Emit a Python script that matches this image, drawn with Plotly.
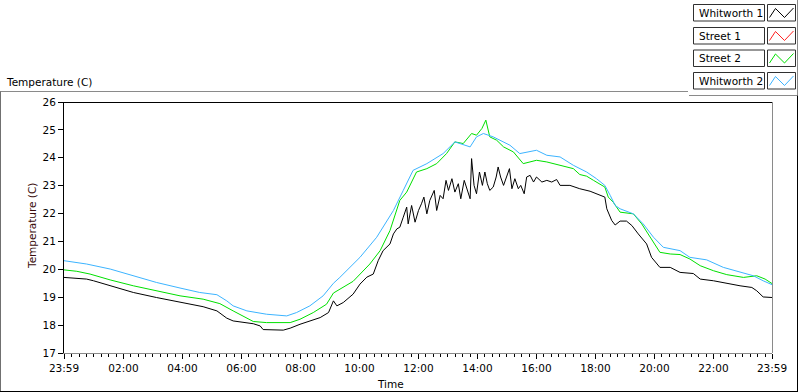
import plotly.graph_objects as go

# ---------------- data ----------------
series_names = ["Whitworth 1", "Street 1", "Street 2", "Whitworth 2"]
series_colors = ["#000000", "#ff2020", "#00e000", "#3cb4ff"]

whitworth1_time = ["23:59", "00:45", "00:59", "01:33", "02:20", "03:07", "03:55", "04:42", "05:10", "05:30",
                   "05:43", "06:24", "06:38", "06:44", "07:25", "07:39", "07:59", "08:19", "08:40", "08:57",
                   "09:07", "09:14", "09:27", "09:47", "10:01", "10:15", "10:28", "10:38", "10:48", "11:02",
                   "11:09", "11:16", "11:22", "11:29", "11:36", "11:39", "11:46", "11:53", "12:00", "12:06",
                   "12:11", "12:17", "12:23", "12:32", "12:37", "12:44", "12:50", "12:56", "13:01", "13:08",
                   "13:14", "13:21", "13:26", "13:33", "13:38", "13:45", "13:48", "13:53", "13:58", "14:04",
                   "14:10", "14:15", "14:20", "14:25", "14:32", "14:38", "14:42", "14:47", "14:53", "14:59",
                   "15:05", "15:10", "15:16", "15:23", "15:28", "15:35", "15:40", "15:47", "15:54", "16:00",
                   "16:11", "16:21", "16:31", "16:41", "16:48", "17:08", "17:28", "17:49", "18:09", "18:19",
                   "18:23", "18:33", "18:40", "18:50", "19:03", "19:14", "19:27", "19:44", "19:54", "20:11",
                   "20:32", "20:52", "21:19", "21:33", "22:00", "22:27", "22:54", "23:18", "23:28", "23:41",
                   "23:59"]
whitworth1_temp = [19.71, 19.65, 19.59, 19.41, 19.17, 18.99, 18.81, 18.66, 18.51, 18.25,
                   18.15, 18.05, 17.97, 17.84, 17.82, 17.89, 18.03, 18.15, 18.27, 18.45,
                   18.87, 18.69, 18.81, 19.11, 19.47, 19.72, 19.83, 20.31, 20.67, 20.91,
                   21.27, 21.45, 21.51, 21.87, 22.23, 21.63, 22.29, 21.69, 22.11, 22.35,
                   22.59, 21.99, 22.47, 22.83, 22.11, 22.65, 22.53, 23.19, 22.83, 23.25,
                   22.77, 23.07, 22.53, 23.19, 22.89, 22.53, 23.97, 23.01, 22.71, 23.49,
                   23.01, 23.49, 23.07, 22.83, 22.95, 23.31, 23.67, 23.31, 23.01, 23.31,
                   23.61, 22.89, 23.25, 22.89, 23.01, 22.71, 23.31, 23.37, 23.13, 23.31,
                   23.13, 23.19, 23.13, 23.22, 23.01, 23.01, 22.89, 22.80, 22.65, 22.59,
                   22.17, 21.75, 21.59, 21.73, 21.73, 21.57, 21.27, 20.91, 20.43, 20.07,
                   20.07, 19.89, 19.85, 19.65, 19.59, 19.49, 19.41, 19.35, 19.23, 19.01,
                   18.99]

street1_time = []
street1_temp = []

street2_time = ["23:59", "00:25", "00:52", "01:33", "02:20", "03:07", "03:55", "04:42", "05:16", "05:43",
                "06:24", "06:51", "07:39", "07:59", "08:26", "08:53", "09:07", "09:47", "10:01", "10:21",
                "10:42", "11:02", "11:22", "11:36", "11:56", "12:17", "12:37", "12:57", "13:14", "13:31",
                "13:48", "13:58", "14:09", "14:17", "14:25", "14:39", "14:53", "15:13", "15:33", "15:47",
                "16:00", "16:21", "16:48", "17:15", "17:28", "17:42", "17:56", "18:19", "18:26", "18:36",
                "18:50", "19:17", "19:34", "19:51", "20:11", "20:32", "20:52", "21:12", "21:33", "22:00",
                "22:27", "23:01", "23:28", "23:45", "23:59"]
street2_temp = [19.98, 19.93, 19.83, 19.62, 19.41, 19.23, 19.05, 18.93, 18.77, 18.51,
                18.13, 18.09, 18.09, 18.21, 18.45, 18.75, 19.15, 19.57, 19.83, 20.19,
                20.67, 21.39, 22.47, 22.77, 23.49, 23.61, 23.79, 24.15, 24.57, 24.51,
                24.87, 24.81, 25.05, 25.35, 24.75, 24.63, 24.39, 24.21, 23.79, 23.85,
                23.91, 23.85, 23.73, 23.61, 23.40, 23.34, 23.19, 22.95, 22.59, 22.41,
                22.05, 21.99, 21.63, 21.15, 20.61, 20.55, 20.53, 20.37, 20.13, 19.95,
                19.81, 19.71, 19.77, 19.65, 19.49]

whitworth2_time = ["23:59", "00:45", "01:33", "02:20", "03:07", "03:55", "04:35", "05:10", "05:30", "05:43",
                   "06:11", "06:51", "07:32", "07:52", "08:19", "08:46", "09:07", "09:20", "09:54", "10:01",
                   "10:35", "11:09", "11:29", "11:49", "12:17", "12:50", "13:14", "13:24", "13:45", "13:58",
                   "14:12", "14:32", "14:46", "15:06", "15:26", "15:47", "16:00", "16:21", "16:48", "17:15",
                   "17:28", "17:42", "18:02", "18:19", "18:30", "18:40", "18:50", "19:17", "19:37", "19:58",
                   "20:18", "20:52", "21:12", "21:46", "22:20", "22:54", "23:21", "23:41", "23:59"]
whitworth2_temp = [20.31, 20.19, 20.01, 19.77, 19.53, 19.33, 19.17, 19.09, 18.87, 18.69,
                   18.51, 18.39, 18.33, 18.45, 18.69, 19.05, 19.50, 19.71, 20.31, 20.43,
                   21.15, 22.11, 22.83, 23.55, 23.79, 24.15, 24.57, 24.51, 24.39, 24.75,
                   24.87, 24.75, 24.63, 24.45, 24.15, 24.21, 24.27, 24.09, 24.03, 23.73,
                   23.60, 23.49, 23.25, 23.01, 22.65, 22.29, 22.17, 21.99, 21.63, 21.15,
                   20.79, 20.67, 20.43, 20.34, 20.07, 19.89, 19.77, 19.59, 19.45]

tick_hours = [-1 / 60, 2, 4, 6, 8, 10, 12, 14, 16, 18, 20, 22, 23 + 59 / 60]
tick_labels = ["23:59", "02:00", "04:00", "06:00", "08:00", "10:00", "12:00",
               "14:00", "16:00", "18:00", "20:00", "22:00", "23:59"]
y_min, y_max = 17, 26


def to_hours(times):
    out = []
    for i, t in enumerate(times):
        h, m = int(t[:2]), int(t[3:])
        if i == 0 and t == "23:59":
            out.append(-1 / 60)
        else:
            out.append(h + m / 60)
    return out


# ---------------- layout geometry (pixels) ----------------
W, H = 800, 392
L, R, T, B = 64, 28, 102, 39
PW, PH = W - L - R, H - T - B
FONT = "DejaVu Sans"


def px(x):
    return (x - L) / PW


def py(y):
    return (H - B - y) / PH


fig = go.Figure()
series = [(whitworth1_time, whitworth1_temp), (street1_time, street1_temp),
          (street2_time, street2_temp), (whitworth2_time, whitworth2_temp)]
for name, color, (tt, vv) in zip(series_names, series_colors, series):
    fig.add_trace(go.Scatter(x=to_hours(tt), y=vv, mode="lines", name=name,
                             line=dict(color=color, width=1), showlegend=False,
                             hoverinfo="skip"))

shapes = []
annotations = []


def hline(x0, x1, y, color):
    shapes.append(dict(type="line", xref="paper", yref="paper", x0=px(x0), x1=px(x1),
                       y0=py(y), y1=py(y), line=dict(color=color, width=1), layer="above"))


def vline(x, y0, y1, color):
    shapes.append(dict(type="line", xref="paper", yref="paper", x0=px(x), x1=px(x),
                       y0=py(y0), y1=py(y1), line=dict(color=color, width=1), layer="above"))


# outer frame
hline(0, 688, 91.5, "#8a8a8a")
hline(689, 797, 95.5, "#8a8a8a")
vline(797.5, 0, 95.5, "#8a8a8a")
vline(797.5, 95.5, 391.5, "#000000")
vline(0.5, 91.5, 391.5, "#707070")
hline(0, 798, 391.5, "#000000")
# plot frame: top black, right gray
hline(64, 772, 102.5, "#000000")
vline(772.5, 102, 353, "#8a8a8a")

# legend
row_tops = [4.5, 27.5, 50.0, 72.5]
for name, color, top in zip(series_names, series_colors, row_tops):
    shapes.append(dict(type="rect", xref="paper", yref="paper", x0=px(693.5), x1=px(764.5),
                       y0=py(top), y1=py(top + 16.5), line=dict(color="#303030", width=1),
                       fillcolor="white", layer="above"))
    shapes.append(dict(type="rect", xref="paper", yref="paper", x0=px(767.5), x1=px(795.5),
                       y0=py(top), y1=py(top + 16.5), line=dict(color="#303030", width=1),
                       fillcolor="white", layer="above"))
    pts = [(769.5, top + 13), (775.5, top + 4), (784.5, top + 13), (793.5, top + 3.5)]
    path = "M " + " L ".join(f"{px(a):.5f},{py(b):.5f}" for a, b in pts)
    shapes.append(dict(type="path", xref="paper", yref="paper", path=path,
                       line=dict(color=color, width=1), layer="above"))
    annotations.append(dict(text=name, xref="paper", yref="paper", x=px(697), y=py(top + 8.5),
                            xanchor="left", yanchor="middle", showarrow=False,
                            font=dict(family=FONT, size=10.5, color="#000000")))

# titles
annotations.append(dict(text="Temperature (C)", xref="paper", yref="paper", x=px(4), y=py(82),
                        xanchor="left", yanchor="middle", showarrow=False,
                        font=dict(family=FONT, size=10.5, color="#000000")))
annotations.append(dict(text="Temperature (C)", xref="paper", yref="paper", x=px(32), y=py(226),
                        xanchor="center", yanchor="middle", showarrow=False, textangle=-90,
                        font=dict(family=FONT, size=10.5, color="#3a0c0c")))
annotations.append(dict(text="Time", xref="paper", yref="paper", x=px(390), y=py(384),
                        xanchor="center", yanchor="middle", showarrow=False,
                        font=dict(family=FONT, size=10.5, color="#000000")))

fig.update_layout(
    width=W, height=H, margin=dict(l=L, r=R, t=T, b=B, pad=0),
    paper_bgcolor="white", plot_bgcolor="white",
    showlegend=False, shapes=shapes, annotations=annotations,
    font=dict(family=FONT, size=10.5, color="#000000"),
    xaxis=dict(range=[tick_hours[0], tick_hours[-1]], tickmode="array", tickvals=tick_hours,
               ticktext=tick_labels, ticks="outside", ticklen=5, tickcolor="#000000",
               showgrid=False, zeroline=False, showline=True, linecolor="#8a8a8a", linewidth=1,
               tickfont=dict(family=FONT, size=10.5, color="#000000"),
               minor=dict(ticks="outside", ticklen=3, tickcolor="#000000", tick0=0, dtick=0.25,
                          showgrid=False)),
    yaxis=dict(range=[y_min, y_max], tickmode="linear", tick0=17, dtick=1, ticks="outside",
               ticklen=5, tickcolor="#000000", showgrid=False, zeroline=False, showline=True,
               linecolor="#000000", linewidth=1,
               tickfont=dict(family=FONT, size=10.5, color="#000000")),
)

fig.write_html("out.html", config={"displayModeBar": False},
               post_script="document.body.style.margin='0';document.body.style.overflow='hidden';")
